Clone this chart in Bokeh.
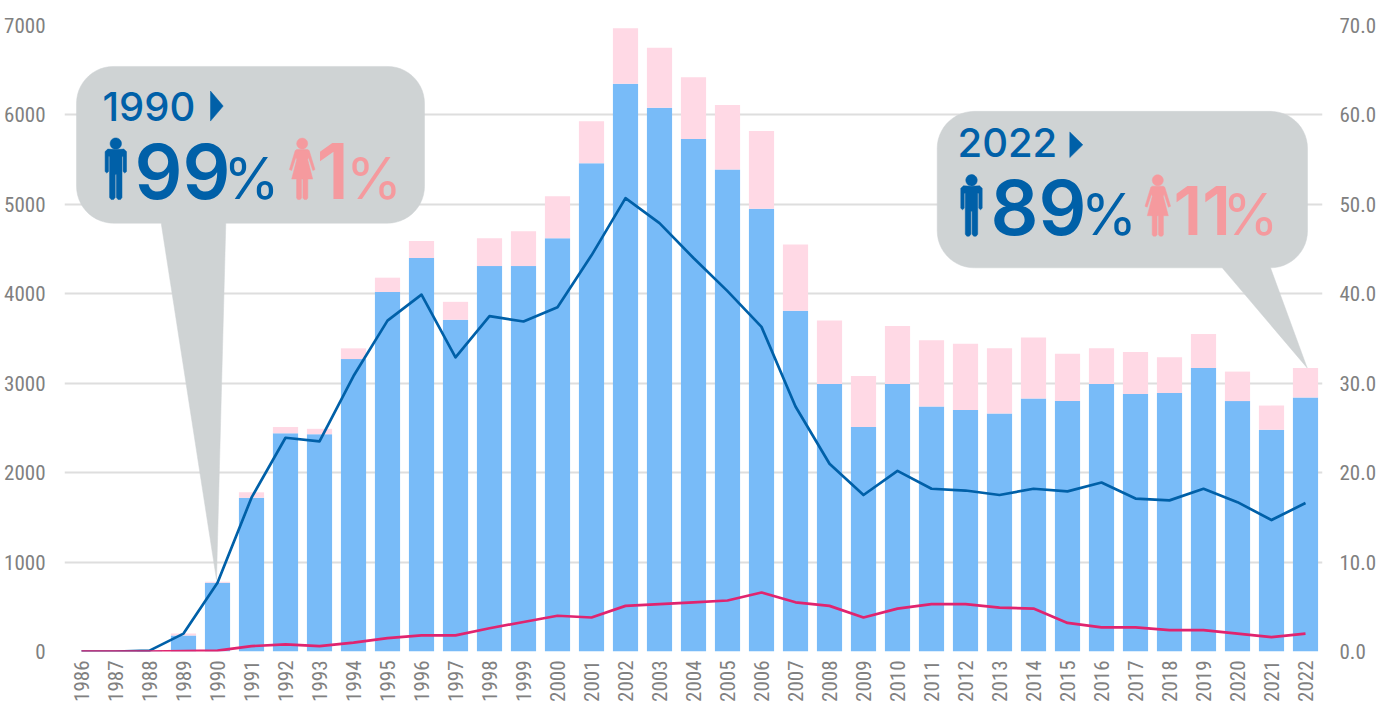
import numpy as np
from bokeh.core.properties import value
from bokeh.embed import file_html
from bokeh.models import LinearAxis, NumeralTickFormatter, Range1d, FixedTicker
from bokeh.plotting import figure
from bokeh.resources import INLINE

years = list(range(1986, 2023))
men_count = [0, 0, 10, 180, 770, 1720, 2440, 2430, 3270, 4020, 4400, 3710, 4310, 4310, 4620, 5460, 6350, 6080, 5730, 5390, 4950, 3810, 2990, 2510, 2990, 2740, 2700, 2660, 2830, 2800, 2990, 2880, 2890, 3170, 2800, 2480, 2840]
total_count = [0, 0, 10, 200, 780, 1780, 2510, 2490, 3390, 4180, 4590, 3910, 4620, 4700, 5090, 5930, 6970, 6750, 6420, 6110, 5820, 4550, 3700, 3080, 3640, 3480, 3440, 3390, 3510, 3330, 3390, 3350, 3290, 3550, 3130, 2750, 3170]
men_rate = [0, 0, 0.1, 2.0, 7.7, 17.2, 23.9, 23.5, 30.8, 37.0, 39.9, 32.9, 37.5, 36.9, 38.5, 44.3, 50.7, 47.9, 44.0, 40.3, 36.3, 27.4, 21.0, 17.5, 20.2, 18.2, 18.0, 17.5, 18.2, 17.9, 18.9, 17.1, 16.9, 18.2, 16.7, 14.7, 16.6]
women_rate = [0, 0, 0, 0.05, 0.1, 0.6, 0.8, 0.6, 1.0, 1.5, 1.8, 1.8, 2.6, 3.3, 4.0, 3.8, 5.1, 5.3, 5.5, 5.7, 6.6, 5.5, 5.1, 3.8, 4.8, 5.3, 5.3, 4.9, 4.8, 3.2, 2.7, 2.7, 2.4, 2.4, 2.0, 1.6, 2.0]
women_count = [t - m for t, m in zip(total_count, men_count)]

BLUE_BAR, PINK_BAR = "#78BBF8", "#FFD9E5"
BLUE, MAGENTA = "#0060A8", "#E0246F"
ICON_PINK, BOX = "#F59A9E", "#CFD3D4"
GRID, TICK = "#DEDEDE", "#808080"
NUM_FONT = "Inter"
MED_FONT = "Inter Medium, Inter"
SEMI_FONT = "Inter SemiBold, Inter"
TICK_FONT = "Roboto Condensed, Roboto"

p = figure(width=1389, height=704, x_range=Range1d(1985.5, 2022.5),
           y_range=Range1d(0, 7000), output_backend="svg", toolbar_location=None,
           min_border_left=64, min_border_right=67, min_border_top=25, min_border_bottom=52,
           outline_line_color=None, background_fill_color="white", border_fill_color="white")
p.extra_y_ranges["rate"] = Range1d(0, 70)
p.extra_x_ranges["px"] = Range1d(64, 1322)
p.extra_y_ranges["py"] = Range1d(652, 25)
p.xgrid.visible = False
p.ygrid.grid_line_color = GRID
p.ygrid.grid_line_width = 2
p.ygrid.ticker = FixedTicker(ticks=list(range(0, 7001, 1000)))

for ax in (p.xaxis[0], p.yaxis[0]):
    ax.axis_line_color = None
    ax.major_tick_line_color = None
    ax.minor_tick_line_color = None
    ax.major_tick_out = 0
    ax.major_tick_in = 0
    ax.major_label_text_font = TICK_FONT
    ax.major_label_text_color = TICK
    ax.major_label_text_font_size = "21px"
p.yaxis[0].ticker = FixedTicker(ticks=list(range(0, 7001, 1000)))
p.yaxis[0].major_label_standoff = 19
p.xaxis[0].ticker = FixedTicker(ticks=years)
p.xaxis[0].major_label_orientation = np.pi / 2
p.xaxis[0].major_label_standoff = 9

right = LinearAxis(y_range_name="rate", ticker=FixedTicker(ticks=list(range(0, 71, 10))),
                   formatter=NumeralTickFormatter(format="0.0"), axis_line_color=None,
                   major_tick_line_color=None, minor_tick_line_color=None, major_tick_out=0, major_tick_in=0,
                   major_label_text_font=TICK_FONT, major_label_text_color=TICK,
                   major_label_text_font_size="21px", major_label_standoff=17)
p.add_layout(right, "right")


def rounded(x0, y0, x1, y1, r, tail):
    """Rounded box outline with a tail (px coordinates on the page image)."""
    t = np.linspace(0, np.pi / 2, 14)
    xs, ys = [], []
    for cx, cy, a in ((x1 - r, y0 + r, -np.pi / 2), (x1 - r, y1 - r, 0), (x0 + r, y1 - r, np.pi / 2), (x0 + r, y0 + r, np.pi)):
        if a == np.pi / 2:
            xs += [q[0] for q in tail]
            ys += [q[1] for q in tail]
        xs += list(cx + r * np.cos(t + a))
        ys += list(cy + r * np.sin(t + a))
    return xs, ys


PX = dict(x_range_name="px", y_range_name="py")


def poly(xs, ys, color):
    p.patch(xs, ys, fill_color=color, line_color=color, line_width=0.5, **PX)


def txt(x, y, s, size, color, font=NUM_FONT):
    p.text([x], [y - 0.375 * size], text=[s], text_font=value(font), text_font_size=value(f"{size}px"),
           text_color=color, text_align="left", text_baseline="alphabetic", **PX)


def head(cx, top, r, color):
    t = np.linspace(0, 2 * np.pi, 40)
    poly(list(cx + r * np.cos(t)), list(top + 6 + r * np.sin(t)), color)


def man(cx, top, color=BLUE):
    head(cx, top, 5.7, color)
    half = [(0, 12), (8, 11.5), (10.7, 14), (10.7, 34), (9, 35.5), (7.3, 34), (7.3, 19), (6.2, 19), (6.2, 60), (4.7, 62), (2.2, 62), (0.6, 60), (0.6, 37), (0, 37)]
    pts = half + [(-a, b) for a, b in reversed(half)]
    poly([cx + a for a, b in pts], [top + b for a, b in pts], color)


def woman(cx, top, color=ICON_PINK):
    head(cx, top, 5.5, color)
    half = [(0, 12), (5.5, 12), (7, 13), (12.8, 32), (10.6, 33), (6.3, 20), (5.5, 22), (10.5, 41.5), (5.6, 41.5), (5.6, 60.5), (4.4, 62), (2, 62), (0.7, 60.5), (0.7, 41.5), (0, 41.5)]
    pts = half + [(-a, b) for a, b in reversed(half)]
    poly([cx + a for a, b in pts], [top + b for a, b in pts], color)


def callout(box, tail, head_txt, head_x, tri, man_x, top, big, big_x, pc_x, woman_x, small, small_x, small_size, pc2_x, base, head_base):
    xs, ys = rounded(*box, 37, tail)
    poly(xs, ys, BOX)
    txt(head_x, head_base, head_txt, 40, BLUE, MED_FONT)
    poly([tri[0], tri[1], tri[0]], [tri[2], (tri[2] + tri[3]) / 2, tri[3]], BLUE)
    man(man_x, top)
    woman(woman_x, top)
    txt(big_x, base, big, 75, BLUE, SEMI_FONT)
    txt(pc_x, base, "%", 57, BLUE)
    txt(small_x, base, small, small_size, ICON_PINK, SEMI_FONT)
    txt(pc2_x, base, "%", 57, ICON_PINK)


callout((76, 66, 424, 223), [(225.3, 223), (216, 580), (160.7, 223)], "1990", 102, (210, 222.7, 90.7, 120.7),
        115.3, 137.3, "99", 134, 223, 301.7, "1", 316, 77, 345.5, 199.3, 121)
callout((936.7, 111, 1307, 267.7), [(1270, 267.7), (1306.7, 368), (1221.7, 267.7)], "2022", 957, (1069.3, 1082.3, 131.7, 157.3),
        971, 174, "89", 990, 1080.5, 1157.3, "11", 1173, 68, 1222, 235.7, 157)

src = dict(year=years, men=men_count, women=women_count)
p.vbar_stack(["men", "women"], x="year", width=0.74, color=[BLUE_BAR, PINK_BAR], source=src, line_color=None)
p.line(years, men_rate, line_color=BLUE, line_width=2.7, y_range_name="rate", line_join="round")
p.line(years, women_rate, line_color=MAGENTA, line_width=2.7, y_range_name="rate", line_join="round")

open("out.html", "w").write(file_html(p, INLINE))
